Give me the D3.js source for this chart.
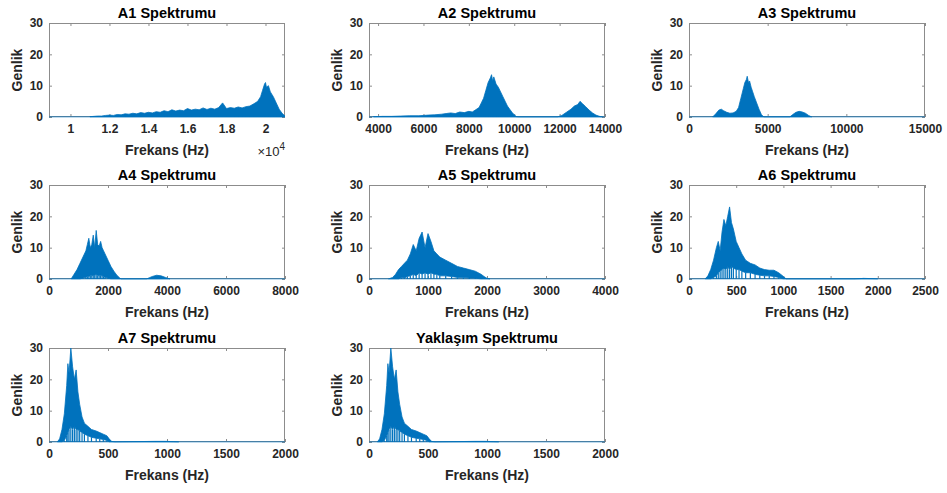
<!DOCTYPE html>
<html>
<head>
<meta charset="utf-8">
<script src="https://cdn.jsdelivr.net/npm/d3@7/dist/d3.min.js"></script>
<style>
html,body{margin:0;padding:0;background:#fff;}
svg{display:block;font-family:"Liberation Sans",Arial,Helvetica,sans-serif;}
</style>
</head>
<body>
<svg id="chart" width="947" height="493"></svg>
<script>
// ---- data: [frequency Hz, upper amplitude, lower amplitude] ----
const titles = ["A1 Spektrumu","A2 Spektrumu","A3 Spektrumu","A4 Spektrumu","A5 Spektrumu","A6 Spektrumu","A7 Spektrumu","Yaklaşım Spektrumu"];
const xDomains = [[8900,21000],[3600,14000],[0,15000],[0,8000],[0,4000],[0,2500],[0,2000],[0,2000]];
const xTicks = [
  [10000,12000,14000,16000,18000,20000],
  [4000,6000,8000,10000,12000,14000],
  [0,5000,10000,15000],
  [0,2000,4000,6000,8000],
  [0,1000,2000,3000,4000],
  [0,500,1000,1500,2000,2500],
  [0,500,1000,1500,2000],
  [0,500,1000,1500,2000]
];
const xTickLabels = [
  ["1","1.2","1.4","1.6","1.8","2"],
  ["4000","6000","8000","10000","12000","14000"],
  ["0","5000","10000","15000"],
  ["0","2000","4000","6000","8000"],
  ["0","1000","2000","3000","4000"],
  ["0","500","1000","1500","2000","2500"],
  ["0","500","1000","1500","2000"],
  ["0","500","1000","1500","2000"]
];
const yTicks = [0,10,20,30];

const a1 = [[11000,0.1,0],[11200,0.2,0],[11400,0.3,0],[11600,0.3,0],[11800,0.5,0],[12000,0.6,0],[12200,0.5,0],[12400,0.8,0],[12600,0.7,0],[12800,1.0,0],[13000,0.9,0],[13200,1.2,0],[13400,1.0,0],[13600,1.4,0],[13800,1.2,0],[14000,1.5,0],[14200,1.3,0],[14400,1.7,0],[14600,1.5,0],[14800,2.0,0],[15000,1.7,0],[15200,2.3,0],[15400,1.9,0],[15600,2.2,0],[15800,2.0,0],[16000,2.7,0],[16200,2.2,0],[16400,2.5,0],[16600,2.3,0],[16800,2.9,0],[17000,2.4,0],[17200,2.8,0],[17400,2.5,0],[17600,3.0,0],[17800,4.5,0],[18000,2.7,0],[18200,3.0,0],[18400,2.8,0],[18600,3.2,0],[18800,2.9,0],[19000,3.3,0],[19200,3.5,0],[19400,4.2,0],[19600,5.0,0],[19750,6.5,0],[19850,8.5,0],[19950,10.5,0],[20000,11.0,0],[20050,9.5,0],[20150,10.0,0],[20250,8.0,0],[20400,6.5,0],[20550,4.5,0],[20700,2.5,0],[20850,1.2,0],[21000,0.3,0]];
const a2 = [[3800,0.1,0],[4200,0.2,0],[4600,0.2,0],[5000,0.3,0],[5400,0.4,0],[5800,0.4,0],[6200,0.6,0],[6500,0.7,0],[6800,0.9,0],[7000,1.1,0],[7200,1.3,0],[7400,1.1,0],[7600,1.6,0],[7800,1.4,0],[8000,1.8,0],[8150,1.6,0],[8300,2.3,0],[8450,3.0,0],[8550,4.5,0],[8650,6.0,0],[8750,8.5,0],[8850,11.0,0],[8950,12.5,0],[9000,13.5,0],[9050,11.5,0],[9100,12.8,0],[9200,10.5,0],[9300,9.5,0],[9400,8.0,0],[9500,6.5,0],[9600,5.0,0],[9700,3.5,0],[9800,2.5,0],[9900,1.5,0],[10000,0.7,0],[10100,0.1,0],[10200,0,0],[11900,0,0],[12100,0.5,0],[12300,1.5,0],[12500,2.5,0],[12650,3.5,0],[12800,4.0,0],[12900,5.0,0],[13000,4.3,0],[13150,3.3,0],[13300,2.2,0],[13450,1.3,0],[13600,0.6,0],[13800,0.1,0],[13900,0,0]];
const a3 = [[1500,0,0],[1700,1.0,0],[1900,2.2,0],[2050,2.5,0],[2200,2.0,0],[2400,1.5,0],[2600,1.2,0],[2800,1.3,0],[3000,1.8,0],[3150,3.0,0],[3300,6.0,0],[3450,9.0,0],[3550,11.0,0],[3650,12.0,0],[3700,13.0,0],[3780,11.0,0],[3850,11.5,0],[3950,9.5,0],[4050,8.0,0],[4150,6.5,0],[4300,4.5,0],[4450,2.5,0],[4600,0.8,0],[4750,0,0],[6400,0,0],[6600,0.8,0],[6800,1.5,0],[7000,1.8,0],[7200,1.6,0],[7400,1.2,0],[7600,0.5,0],[7800,0,0]];
const a4 = [[750,0,0],[850,1.5,0],[950,3,0],[1050,5,0],[1150,7,0.3],[1250,9,0.5],[1300,11,0.8],[1350,13,0.8],[1400,10,1],[1450,11,1],[1500,14,1.2],[1550,10,1],[1600,15.5,1.5],[1650,11,1.2],[1700,10.5,1],[1750,12,1.2],[1800,10,1],[1850,9,0.8],[1900,8,0.5],[2000,6,0.3],[2100,4,0],[2200,2.5,0],[2300,1.2,0],[2400,0.3,0],[2450,0,0],[3300,0,0],[3400,0.4,0],[3500,0.8,0],[3650,1.2,0],[3800,1.0,0],[3950,0.5,0],[4100,0,0]];
const a5 = [[330,0,0],[400,0.5,0],[450,1.5,0],[500,3,0],[550,4,0.5],[600,5,0.3],[650,6,0.8],[700,8,1],[750,11,1.5],[800,9,1],[850,13,2],[900,15,1.5],[950,10,2],[1000,14.5,1.5],[1050,12,2],[1100,9,1.5],[1150,8,1.5],[1200,7,1],[1300,6,1],[1400,5,0.8],[1500,4,0.5],[1600,3.5,0.5],[1700,3,0.3],[1800,2.5,0.3],[1900,1.5,0],[1950,0.8,0],[2000,0.2,0],[2050,0,0]];
const a6 = [[170,0,0],[200,1,0],[230,3,0],[260,6,0.5],[290,10,1],[310,12,2],[330,9,2.5],[350,15,3],[370,19,3.5],[390,17,3],[410,20,4],[430,23,3],[450,18,4],[470,16,3.5],[500,12,3],[530,10,3],[560,8,2.5],[600,6,2],[650,5,2],[700,4.5,1.5],[750,3.5,1.2],[800,3,1],[850,2.8,1],[900,2.8,0.8],[950,2,0.5],[1000,0.8,0],[1030,0,0],[1750,0,0],[1850,0.2,0],[1950,0.1,0],[2000,0,0]];
const a7 = [[70,0,0],[90,1,0],[110,4,0],[130,9,0.5],[150,18,2],[160,25,3],[170,22,4],[185,30,5],[200,24,4],[215,20,5],[230,23,4],[245,16,4],[260,12,3.5],[280,8,3],[300,6,2.5],[330,5,2],[360,4,1.5],[400,3.5,1.2],[430,3,1],[460,2.5,0.8],[490,2,0.5],[510,1,0],[530,0.2,0],[560,0,0],[700,0.1,0],[900,0.2,0],[1000,0.2,0],[1050,0.1,0],[1100,0,0]];
const yaklasim = [[70,0,0],[90,1,0],[110,4,0],[130,9,0.5],[150,18,2],[160,25,3],[170,22,4],[185,30,5],[200,24,4],[215,20,5],[230,23,4],[245,16,4],[260,12,3.5],[280,8,3],[300,6,2.5],[330,5,2],[360,4,1.5],[400,3.5,1.2],[430,3,1],[460,2.5,0.8],[490,2,0.5],[510,1,0],[530,0.2,0],[560,0,0],[700,0.1,0],[900,0.2,0],[1000,0.2,0],[1050,0.1,0],[1100,0,0]];
const seriesData = [a1,a2,a3,a4,a5,a6,a7,yaklasim];

// ---- layout ----
const colLeft = [49,369,689], rowTop = [23,185,348];
const PW = 236, PH = 94;
const BLUE = "#0072BD", TXT = "#262626", BOX = "#8c8c8c";

const svg = d3.select("#chart");

seriesData.forEach((data, i) => {
  const left = colLeft[i % 3], top = rowTop[Math.floor(i / 3)];
  const x = d3.scaleLinear().domain(xDomains[i]).range([left, left + PW]);
  const y = d3.scaleLinear().domain([0, 30]).range([top + PH, top]);
  const g = svg.append("g");

  const clipId = "clip" + i;
  g.append("clipPath").attr("id", clipId).append("rect")
    .attr("x", left).attr("y", top - 1).attr("width", PW).attr("height", PH + 1.5);

  // box
  g.append("rect").attr("x", left + 0.5).attr("y", top + 0.5)
    .attr("width", PW - 1).attr("height", PH - 1)
    .attr("fill", "none").attr("stroke", BOX).attr("stroke-width", 1);

  // axes with inward ticks
  const xb = d3.axisBottom(x).tickValues(xTicks[i]).tickFormat((d, k) => xTickLabels[i][k]).tickSize(-3).tickPadding(7);
  const xt = d3.axisTop(x).tickValues(xTicks[i]).tickFormat("").tickSize(-3);
  const yl = d3.axisLeft(y).tickValues(yTicks).tickSize(-3).tickPadding(6);
  const yr = d3.axisRight(y).tickValues(yTicks).tickFormat("").tickSize(-3);

  const styleAxis = sel => {
    sel.select(".domain").remove();
    sel.selectAll(".tick line").attr("stroke", BOX);
    sel.selectAll(".tick text").attr("fill", TXT).attr("font-size", 12).attr("font-weight", "bold");
  };
  g.append("g").attr("transform", `translate(0,${top + PH})`).call(xb).call(styleAxis)
    .selectAll(".tick text").attr("dy", "0.71em");
  g.append("g").attr("transform", `translate(0,${top})`).call(xt).call(styleAxis);
  g.append("g").attr("transform", `translate(${left},0)`).call(yl).call(styleAxis);
  g.append("g").attr("transform", `translate(${left + PW},0)`).call(yr).call(styleAxis);

  // spectrum
  const plot = g.append("g").attr("clip-path", `url(#${clipId})`);
  plot.append("line")
    .attr("x1", x(xDomains[i][0])).attr("x2", x(xDomains[i][1]))
    .attr("y1", y(0)).attr("y2", y(0))
    .attr("stroke", BLUE).attr("stroke-width", 1.2);
  const area = d3.area().x(d => x(d[0])).y0(d => y(d[2])).y1(d => y(d[1]));
  plot.append("path").datum(data).attr("d", area)
    .attr("fill", BLUE).attr("stroke", BLUE).attr("stroke-width", 0.8).attr("stroke-linejoin", "miter");
  // stems from the baseline up to each sample's lower value (noisy texture under the band)
  plot.selectAll("line.stem").data(data.filter(d => d[2] > 0)).join("line")
    .attr("class", "stem")
    .attr("x1", d => x(d[0])).attr("x2", d => x(d[0]))
    .attr("y1", y(0)).attr("y2", d => y(d[2]))
    .attr("stroke", BLUE).attr("stroke-width", 1.2);

  // title and labels
  g.append("text").attr("x", left + PW / 2).attr("y", top - 5.5)
    .attr("text-anchor", "middle").attr("font-size", 14.5).attr("font-weight", "bold")
    .attr("fill", "#000").text(titles[i]);
  g.append("text").attr("x", left + PW / 2).attr("y", top + PH + 38)
    .attr("text-anchor", "middle").attr("font-size", 14).attr("font-weight", "bold")
    .attr("fill", TXT).text("Frekans (Hz)");
  g.append("text")
    .attr("transform", `translate(${left - 27},${top + PH / 2}) rotate(-90)`)
    .attr("text-anchor", "middle").attr("font-size", 14).attr("font-weight", "bold")
    .attr("fill", TXT).text("Genlik");

  if (i === 0) {
    const ex = g.append("text").attr("x", left + PW).attr("y", top + PH + 39)
      .attr("text-anchor", "end").attr("fill", TXT).attr("font-size", 13);
    ex.append("tspan").text("×10");
    ex.append("tspan").attr("font-size", 10).attr("dy", -6).text("4");
  }
});
</script>
</body>
</html>
